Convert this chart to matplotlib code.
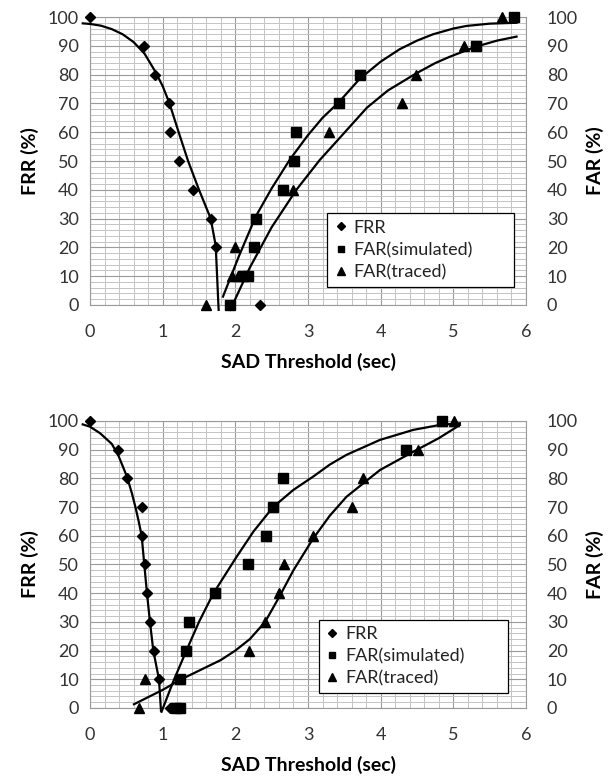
import matplotlib.pyplot as plt
from matplotlib.ticker import MultipleLocator

plt.rcParams['font.family'] = ['Lato', 'DejaVu Sans']

# ---- top chart: scatter data ----
frr1_x = [0, 0.74, 0.90, 1.09, 1.10, 1.22, 1.42, 1.67, 1.73, 2.34]
frr1_y = [100, 90, 80, 70, 60, 50, 40, 30, 20, 0]
sim1_x = [1.93, 2.11, 2.18, 2.26, 2.28, 2.65, 2.81, 2.84, 3.42, 3.72, 5.31, 5.83]
sim1_y = [0, 10, 10, 20, 30, 40, 50, 60, 70, 80, 90, 100]
trc1_x = [1.60, 1.95, 2.03, 2.00, 2.80, 3.29, 4.30, 4.48, 5.14, 5.67]
trc1_y = [0, 10, 10, 20, 40, 60, 70, 80, 90, 100]

# top chart: trend lines
frr1_fit_x = [-0.10, 0.0, 0.15, 0.30, 0.45, 0.60, 0.75, 0.90, 1.00, 1.09, 1.22, 1.35, 1.50, 1.66, 1.73, 1.77]
frr1_fit_y = [97.8, 97.6, 97.0, 95.8, 94.0, 91.3, 87.3, 81.0, 76.0, 70.3, 60, 50, 40, 30.1, 20.6, -1.7]
sim1_fit_x = [1.83, 2.05, 2.28, 2.50, 2.75, 3.00, 3.20, 3.42, 3.71, 4.00, 4.26, 4.50, 4.72, 5.00, 5.18, 5.50, 5.87]
sim1_fit_y = [2.9, 17, 30.7, 40.5, 50.5, 59, 65, 70.3, 78.5, 84.5, 88.8, 91.8, 94.0, 96.0, 96.9, 97.7, 98]
trc1_fit_x = [1.93, 2.20, 2.50, 2.84, 3.16, 3.40, 3.81, 4.10, 4.48, 4.75, 4.95, 5.31, 5.60, 5.87]
trc1_fit_y = [-1.7, 13, 27, 40, 50.3, 57, 68.5, 74.5, 80.3, 84, 86.2, 89.7, 91.8, 93.2]

# ---- bottom chart: scatter data ----
frr2_x = [0, 0.39, 0.51, 0.71, 0.72, 0.75, 0.78, 0.83, 0.88, 0.95, 1.10]
frr2_y = [100, 90, 80, 70, 60, 50, 40, 30, 20, 10, 0]
sim2_x = [1.18, 1.24, 1.24, 1.32, 1.36, 1.72, 2.18, 2.42, 2.52, 2.65, 4.35, 4.85]
sim2_y = [0, 0, 10, 20, 30, 40, 50, 60, 70, 80, 90, 100]
trc2_x = [0.68, 0.75, 2.19, 2.41, 2.60, 2.67, 3.07, 3.61, 3.75, 4.51, 5.01]
trc2_y = [0, 10, 20, 30, 40, 50, 60, 70, 80, 90, 100]

# bottom chart: trend lines
frr2_fit_x = [-0.10, 0.0, 0.14, 0.30, 0.39, 0.51, 0.58, 0.63, 0.67, 0.711, 0.747, 0.784, 0.825, 0.871, 0.949, 0.977]
frr2_fit_y = [98.8, 98.0, 95.7, 92.0, 88, 80.5, 74.5, 69.5, 65, 60, 50, 40, 30, 20, 10, -1]
sim2_fit_x = [0.985, 1.15, 1.33, 1.50, 1.70, 2.00, 2.25, 2.52, 2.80, 3.07, 3.30, 3.53, 3.99, 4.45, 4.81, 5.09]
sim2_fit_y = [-1.3, 9.5, 20.2, 30, 40, 52, 61.5, 70, 76, 80.6, 84.8, 88.2, 93.4, 96.9, 98.6, 99.2]
trc2_fit_x = [0.605, 1.0, 1.24, 1.5, 1.8, 2.0, 2.2, 2.41, 2.60, 2.80, 3.07, 3.30, 3.53, 3.99, 4.45, 4.80, 5.09]
trc2_fit_y = [1.3, 6.3, 9.8, 13, 16.7, 20, 24, 30, 38.5, 48, 59, 67, 73.6, 82.9, 89.3, 94, 98.6]

labels = ["FRR", "FAR(simulated)", "FAR(traced)"]


def draw(ax, frr, sim, trc, fits, leg_box):
    for fx, fy in fits:
        ax.plot(fx, fy, color="black", lw=1.6, clip_on=False, zorder=3,
                solid_joinstyle="round")
    ax.plot(frr[0], frr[1], "D", color="black", ms=5.2, ls="none", clip_on=False, zorder=4, label=labels[0])
    ax.plot(sim[0], sim[1], "s", color="black", ms=6.8, ls="none", clip_on=False, zorder=4, label=labels[1])
    ax.plot(trc[0], trc[1], "^", color="black", ms=7.8, ls="none", clip_on=False, zorder=4, label=labels[2])

    ax.set_xlim(0, 6)
    ax.set_ylim(0, 100)
    ax.xaxis.set_major_locator(MultipleLocator(1))
    ax.xaxis.set_minor_locator(MultipleLocator(0.2))
    ax.yaxis.set_major_locator(MultipleLocator(10))
    ax.yaxis.set_minor_locator(MultipleLocator(2))
    ax.grid(which="major", color="#9a9a9a", lw=0.8)
    ax.grid(which="minor", color="#c4c4c4", lw=0.7)
    ax.set_axisbelow(True)
    for s in ax.spines.values():
        s.set_color("#9a9a9a")
        s.set_linewidth(0.8)
    ax.tick_params(which="both", length=0, labelsize=13, colors="#333333")
    ax.tick_params(axis="x", pad=14)
    ax.tick_params(axis="y", pad=8)
    ax.set_xlabel("SAD Threshold (sec)", fontsize=14, fontweight="bold", labelpad=9)
    ax.set_ylabel("FRR (%)", fontsize=14, fontweight="bold", labelpad=6)

    axr = ax.twinx()
    axr.set_ylim(0, 100)
    axr.yaxis.set_major_locator(MultipleLocator(10))
    axr.tick_params(length=0, labelsize=13, colors="#333333", pad=15)
    axr.set_ylabel("FAR (%)", fontsize=14, fontweight="bold", labelpad=6)
    for s in axr.spines.values():
        s.set_visible(False)

    leg = ax.legend(loc="lower left", bbox_to_anchor=leg_box, mode="expand",
                    fontsize=13, frameon=True, fancybox=False, framealpha=1,
                    edgecolor="black", markerscale=0.7, handlelength=0.8,
                    handletextpad=0.3, labelspacing=0.35, borderpad=0.35,
                    borderaxespad=0)
    leg.get_frame().set_linewidth(0.9)
    for t in leg.get_texts():
        t.set_color("#222222")
    leg.set_zorder(5)


fig = plt.figure(figsize=(6.11, 7.81), dpi=100)
ax1 = fig.add_axes([0.1473, 0.6095, 0.7136, 0.3687])
ax2 = fig.add_axes([0.1473, 0.0935, 0.7136, 0.3675])

draw(ax1, (frr1_x, frr1_y), (sim1_x, sim1_y), (trc1_x, trc1_y),
     [(frr1_fit_x, frr1_fit_y), (sim1_fit_x, sim1_fit_y), (trc1_fit_x, trc1_fit_y)],
     (0.544, 0.0625, 0.428, 0.27))
draw(ax2, (frr2_x, frr2_y), (sim2_x, sim2_y), (trc2_x, trc2_y),
     [(frr2_fit_x, frr2_fit_y), (sim2_fit_x, sim2_fit_y), (trc2_fit_x, trc2_fit_y)],
     (0.525, 0.052, 0.434, 0.286))

fig.savefig("out.png", dpi=100)
